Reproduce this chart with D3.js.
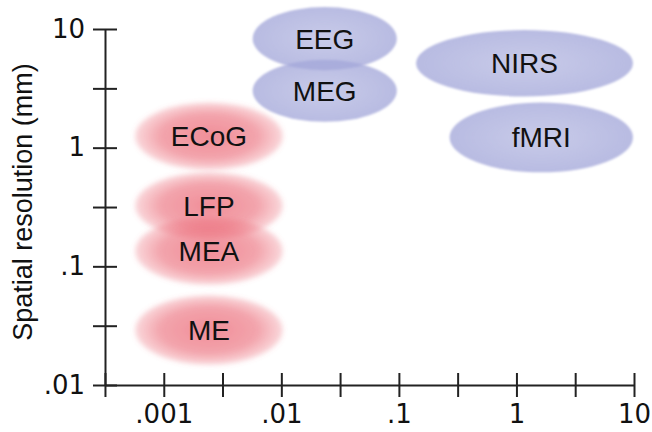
<!DOCTYPE html>
<html>
<head>
<meta charset="utf-8">
<script src="https://d3js.org/d3.v7.min.js"></script>
<style>
  body { margin: 0; background: #fff; }
  .tick-label { font-family: "DejaVu Sans", sans-serif; fill: #111; }
  .name { font-family: "Liberation Sans", Arial, sans-serif; fill: #111; }
</style>
</head>
<body>
<div id="graph-area"></div>
<script>

    // techniques and their ranges: temporal resolution (s) x spatial resolution (mm)
    const techniques = ["EEG", "MEG", "NIRS", "fMRI", "ECoG", "LFP", "MEA", "ME"];
    const invasive   = [false, false, false, false, true, true, true, true];
    const tMin = [0.0057, 0.0057, 0.14, 0.27, 0.00057, 0.00057, 0.00057, 0.00057];
    const tMax = [0.096,  0.096,  9.8,  9.8,  0.0103,  0.0103,  0.0103,  0.0103];
    const sMin = [4.5,  1.65, 2.7, 0.62, 0.65, 0.17, 0.07, 0.0148];
    const sMax = [15.3, 5.5,  9.8, 2.4,  2.4,  0.62, 0.26, 0.057];

    const xTicks = [0.000316, 0.001, 0.00316, 0.01, 0.0316, 0.1, 0.316, 1, 3.16, 10];
    const xTickLabels = ["", ".001", "", ".01", "", ".1", "", "1", "", "10"];
    const yTicks = [0.01, 0.0316, 0.1, 0.316, 1, 3.16, 10];
    const yTickLabels = [".01", "", ".1", "", "1", "", "10"];

    const w = 652;
    const h = 432;

    const xScale = d3.scaleLog()
                     .domain([Math.pow(10, -3.5), 10])
                     .range([105, 634]);

    const yScale = d3.scaleLog()
                     .domain([0.01, 10])
                     .range([385, 29]);

    const svg = d3.select("#graph-area").append("svg")
                  .attr("width", w)
                  .attr("height", h);

    const defs = svg.append("defs");

    // soft edges
    defs.append("filter").attr("id", "blurRed")
        .attr("x", "-30%").attr("y", "-30%").attr("width", "160%").attr("height", "160%")
      .append("feGaussianBlur").attr("stdDeviation", 2.5);
    defs.append("filter").attr("id", "blurBlue")
        .attr("x", "-20%").attr("y", "-20%").attr("width", "140%").attr("height", "140%")
      .append("feGaussianBlur").attr("stdDeviation", 1.2);

    const redGrad = defs.append("radialGradient").attr("id", "redGrad");
    redGrad.append("stop").attr("offset", "0%").attr("stop-color", "#ea6270").attr("stop-opacity", 0.72);
    redGrad.append("stop").attr("offset", "65%").attr("stop-color", "#ea6270").attr("stop-opacity", 0.58);
    redGrad.append("stop").attr("offset", "100%").attr("stop-color", "#ea6270").attr("stop-opacity", 0.25);

    const blueGrad = defs.append("radialGradient").attr("id", "blueGrad");
    blueGrad.append("stop").attr("offset", "0%").attr("stop-color", "#a4a8da").attr("stop-opacity", 0.6);
    blueGrad.append("stop").attr("offset", "100%").attr("stop-color", "#a4a8da").attr("stop-opacity", 0.78);

    const rows = techniques.map((name, i) => ({
      name: name, inv: invasive[i],
      t0: tMin[i], t1: tMax[i], s0: sMin[i], s1: sMax[i]
    }));

    svg.selectAll("ellipse")
       .data(rows)
       .enter()
       .append("ellipse")
       .attr("cx", (d) => (xScale(d.t0) + xScale(d.t1)) / 2)
       .attr("cy", (d) => (yScale(d.s0) + yScale(d.s1)) / 2)
       .attr("rx", (d) => (xScale(d.t1) - xScale(d.t0)) / 2)
       .attr("ry", (d) => (yScale(d.s0) - yScale(d.s1)) / 2)
       .attr("fill", (d) => d.inv ? "url(#redGrad)" : "url(#blueGrad)")
       .attr("filter", (d) => d.inv ? "url(#blurRed)" : "url(#blurBlue)");

    svg.selectAll("text.name")
       .data(rows)
       .enter()
       .append("text")
       .attr("class", "name")
       .attr("x", (d) => (xScale(d.t0) + xScale(d.t1)) / 2)
       .attr("y", (d) => (yScale(d.s0) + yScale(d.s1)) / 2 + 10)
       .attr("text-anchor", "middle")
       .style("font-size", "28px")
       .text((d) => d.name);

    // axes, ticks cross the line on both sides
    const xAxis = d3.axisBottom(xScale)
                    .tickValues(xTicks)
                    .tickFormat((d, i) => xTickLabels[i])
                    .tickSizeInner(12)
                    .tickSizeOuter(0)
                    .tickPadding(8);

    const yAxis = d3.axisLeft(yScale)
                    .tickValues(yTicks)
                    .tickFormat((d, i) => yTickLabels[i])
                    .tickSizeInner(12)
                    .tickSizeOuter(0)
                    .tickPadding(8);

    const gx = svg.append("g")
       .attr("transform", "translate(0," + 385 + ")")
       .call(xAxis);
    gx.selectAll(".tick line").attr("y1", -12).attr("y2", 12);

    const gy = svg.append("g")
       .attr("transform", "translate(" + 105 + ",0)")
       .call(yAxis);
    gy.selectAll(".tick line").attr("x1", 12).attr("x2", -12);

    svg.selectAll(".domain, .tick line")
       .attr("stroke", "#222")
       .attr("stroke-width", 2);
    svg.selectAll(".tick text")
       .attr("class", "tick-label")
       .attr("font-family", null)
       .attr("font-size", null)
       .style("font-size", "26px");

    // text label for the y axis
    svg.append("text")
      .attr("transform", "translate(32," + 202 + ") rotate(-90)")
      .attr("class", "name")
      .style("text-anchor", "middle")
      .style("font-size", "27px")
      .text("Spatial resolution (mm)");

</script>
</body>
</html>
